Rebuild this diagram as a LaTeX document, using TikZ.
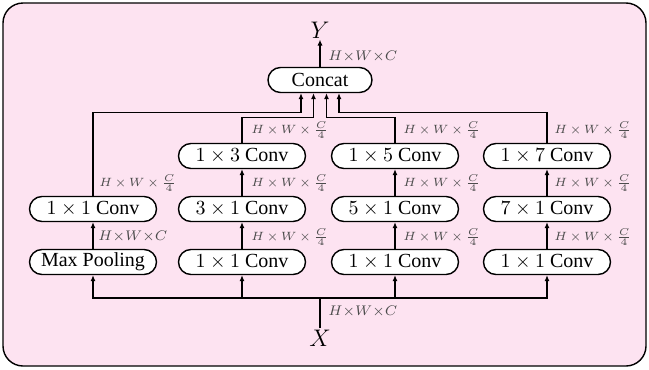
\documentclass[tikz,border=0pt]{standalone}
\usepackage{fontspec}
\setmainfont{Liberation Serif}
\usetikzlibrary{arrows.meta}
\definecolor{bgpink}{HTML}{FDE3F1}
\newcommand{\dimq}{\medmuskip=3mu H\times W\times \frac{C}{4}}
\begin{document}
\begin{tikzpicture}[x=0.5pt,y=-0.5pt,
  blk/.style={draw=black,line width=0.7pt,fill=white,rounded corners=6.25pt,
    minimum width=63.5pt,minimum height=12.5pt,inner sep=0pt,font=\fontsize{10}{11}\selectfont},
  arr/.style={line width=0.6pt,-{Latex[length=3pt,width=2.6pt]}},
  ln/.style={line width=0.6pt},
  dim/.style={anchor=west,inner sep=0pt,text=black!70,font=\fontsize{6.3}{7.5}\selectfont},
  dimt/.style={dim,font=\fontsize{7.5}{9}\selectfont},
  var/.style={inner sep=0.5pt,font=\fontsize{13}{15}\selectfont}]
\useasboundingbox (0,0) rectangle (649,370);
\draw[fill=bgpink,line width=0.7pt,rounded corners=10pt] (3,3) rectangle (646,366);
% nodes
\node[blk] (mp) at (93,262) {Max Pooling};
\node[blk] (c1a) at (93,209) {$1\times 1$ Conv};
\node[blk] (c2a) at (242,262) {$1\times 1$ Conv};
\node[blk] (c2b) at (242,209) {$3\times 1$ Conv};
\node[blk] (c2c) at (242,156) {$1\times 3$ Conv};
\node[blk] (c3a) at (395,262) {$1\times 1$ Conv};
\node[blk] (c3b) at (395,209) {$5\times 1$ Conv};
\node[blk] (c3c) at (395,156) {$1\times 5$ Conv};
\node[blk] (c4a) at (547,262) {$1\times 1$ Conv};
\node[blk] (c4b) at (547,209) {$7\times 1$ Conv};
\node[blk] (c4c) at (547,156) {$1\times 7$ Conv};
\node[blk,minimum width=52pt] (cat) at (320,80) {Concat};
\node[var] (Y) at (320,30) {$Y$};
\node[var] (X) at (320,338) {$X$};
% input distribution
\coordinate (j) at (320,298);
\draw[ln] (X.north) -- (j);
\draw[arr] (j) -| (mp.south);
\draw[arr] (j) -| (c2a.south);
\draw[arr] (j) -| (c3a.south);
\draw[arr] (j) -| (c4a.south);
% columns
\draw[arr] (mp) -- (c1a);
\draw[arr] (c2a) -- (c2b);
\draw[arr] (c2b) -- (c2c);
\draw[arr] (c3a) -- (c3b);
\draw[arr] (c3b) -- (c3c);
\draw[arr] (c4a) -- (c4b);
\draw[arr] (c4b) -- (c4c);
% to concat
\coordinate (i1) at ([xshift=-9.5pt]cat.south);
\coordinate (i2) at ([xshift=-3.25pt]cat.south);
\coordinate (i3) at ([xshift=3.25pt]cat.south);
\coordinate (i4) at ([xshift=9.5pt]cat.south);
\draw[arr] (c1a.north) |- ([yshift=-9.5pt]i1) -- (i1);
\draw[arr] (c2c.north) |- ([yshift=-12pt]i2) -- (i2);
\draw[arr] (c3c.north) |- ([yshift=-12pt]i3) -- (i3);
\draw[arr] (c4c.north) |- ([yshift=-9.5pt]i4) -- (i4);
\draw[arr] (cat.north) -- (Y.south);
% dimension labels
\node[dimt] (dY) at (328,57) {$H{\times}W{\times}C$};
\node[dimt] (dX) at (328,312) {$H{\times}W{\times}C$};
\node[dimt] (d1a) at (98,237) {$H{\times}W{\times}C$};
\node[dim] (d1b) at (99,183) {$\dimq$};
\node[dim] (d2a) at (251,237) {$\dimq$};
\node[dim] (d2b) at (251,183) {$\dimq$};
\node[dim] (d2c) at (251,130) {$\dimq$};
\node[dim] (d3a) at (403,237) {$\dimq$};
\node[dim] (d3b) at (403,183) {$\dimq$};
\node[dim] (d3c) at (403,130) {$\dimq$};
\node[dim] (d4a) at (554,237) {$\dimq$};
\node[dim] (d4b) at (554,183) {$\dimq$};
\node[dim] (d4c) at (554,130) {$\dimq$};
\end{tikzpicture}
\end{document}
